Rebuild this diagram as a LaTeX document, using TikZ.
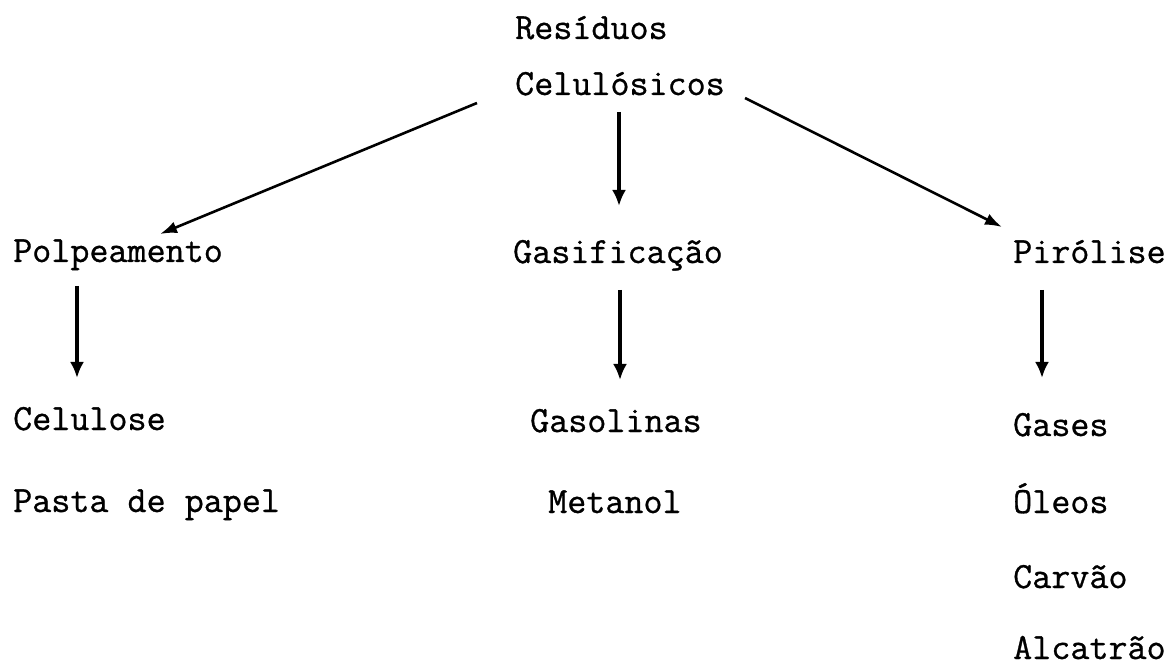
\documentclass[tikz,border=0pt]{standalone}
\usepackage{fontspec}
\setmainfont{Latin Modern Mono}[FakeBold=0.8]
\usetikzlibrary{arrows.meta}
\tikzset{
  lbl/.style={anchor=base west, inner sep=0pt, font=\fontsize{37}{42}\selectfont},
  arr/.style={line width=3.2pt, -{Latex[length=16pt,width=14pt]}},
  darr/.style={line width=2.6pt, -{Latex[length=17pt,width=12pt]}}
}
\begin{document}
\begin{tikzpicture}[x=1pt,y=-1pt]
\useasboundingbox (0,0) rectangle (1173,668);
\node[lbl] (res) at (515,39) {Resíduos};
\node[lbl] (cel) at (515,95) {Celulósicos};
\node[lbl] (pol) at (13,262) {Polpeamento};
\node[lbl] (gas) at (513,263) {Gasificação};
\node[lbl] (pir) at (1013,263) {Pirólise};
\node[lbl] (clo) at (13,430) {Celulose};
\node[lbl] (pas) at (13,512) {Pasta de papel};
\node[lbl] (gsl) at (530,432) {Gasolinas};
\node[lbl] (met) at (548,513) {Metanol};
\node[lbl] (gss) at (1013,436) {Gases};
\node[lbl] (ole) at (1013,513) {Óleos};
\node[lbl] (car) at (1013,588) {Carvão};
\node[lbl] (alc) at (1013,659) {Alcatrão};
\draw[darr] ([shift={(-38,8)}]cel.base west) -- ([shift={(147,-28)}]pol.base west);
\draw[arr] ([shift={(104,17)}]cel.base west) -- ([shift={(106,-57)}]gas.base west);
\draw[darr] ([shift={(230,3)}]cel.base west) -- ([shift={(-11,-36)}]pir.base west);
\draw[arr] ([shift={(64,24)}]pol.base west) -- ([shift={(64,-52)}]clo.base west);
\draw[arr] ([shift={(107,27)}]gas.base west) -- ([shift={(90,-52)}]gsl.base west);
\draw[arr] ([shift={(29,27)}]pir.base west) -- ([shift={(29,-58)}]gss.base west);
\end{tikzpicture}
\end{document}
